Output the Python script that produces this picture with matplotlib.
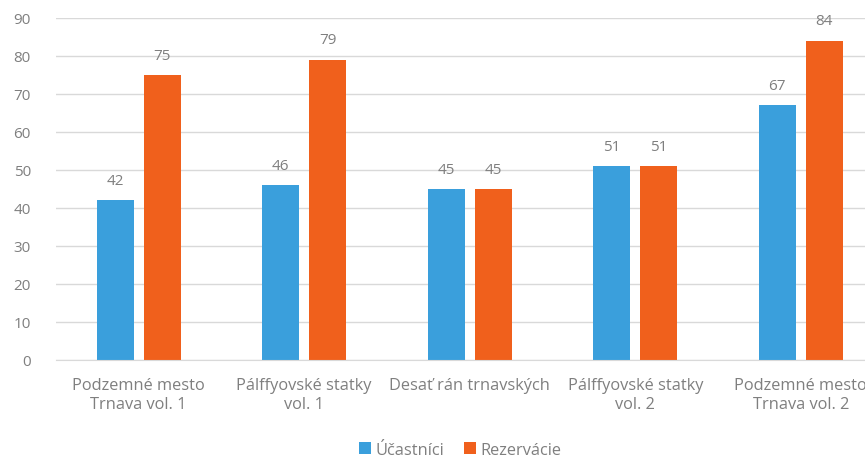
import matplotlib.pyplot as plt
import numpy as np

plt.rcParams['font.family'] = ['Open Sans', 'DejaVu Sans']

categories = ['Podzemné mesto\nTrnava vol. 1', 'Pálffyovské statky\nvol. 1',
              'Desať rán trnavských', 'Pálffyovské statky\nvol. 2',
              'Podzemné mesto\nTrnava vol. 2']
ucastnici = [42, 46, 45, 51, 67]
rezervacie = [75, 79, 45, 51, 84]

blue = '#3a9fdc'
orange = '#f0601c'
gray = '#7f7f7f'

fig = plt.figure(figsize=(8.65, 4.6), dpi=100)
# chart is cut off on the right in the reference, so the axes run past the figure edge
ax = fig.add_axes([56 / 865, 99 / 460, 827.5 / 865, 342 / 460])

x = np.arange(len(categories))
w = 0.224
off = 0.142
b1 = ax.bar(x - off, ucastnici, w, color=blue, label='Účastníci')
b2 = ax.bar(x + off, rezervacie, w, color=orange, label='Rezervácie')

for bars in (b1, b2):
    ax.bar_label(bars, padding=9, color=gray, fontsize=11)

ax.set_xlim(-0.5, len(categories) - 0.5)
ax.set_ylim(0, 90)
ax.set_yticks(range(0, 91, 10))
ax.grid(True, axis='y', color='#d9d9d9', linewidth=1)
ax.set_axisbelow(True)
for s in ['top', 'right', 'left']:
    ax.spines[s].set_visible(False)
ax.spines['bottom'].set_color('#d9d9d9')
ax.tick_params(axis='both', length=0, colors=gray, labelsize=11)
ax.tick_params(axis='y', pad=18)
ax.tick_params(axis='x', pad=12, labelsize=11.8)
ax.set_xticks(x)
ax.set_xticklabels(categories, linespacing=1.3)

fig.legend(handles=[b1, b2], loc='center', bbox_to_anchor=(460 / 865, 1 - 451 / 460),
           ncol=2, frameon=False, fontsize=11.8, labelcolor=gray,
           handlelength=0.75, handleheight=0.75, handletextpad=0.25, columnspacing=1.2)

fig.savefig('out.png', dpi=100)
